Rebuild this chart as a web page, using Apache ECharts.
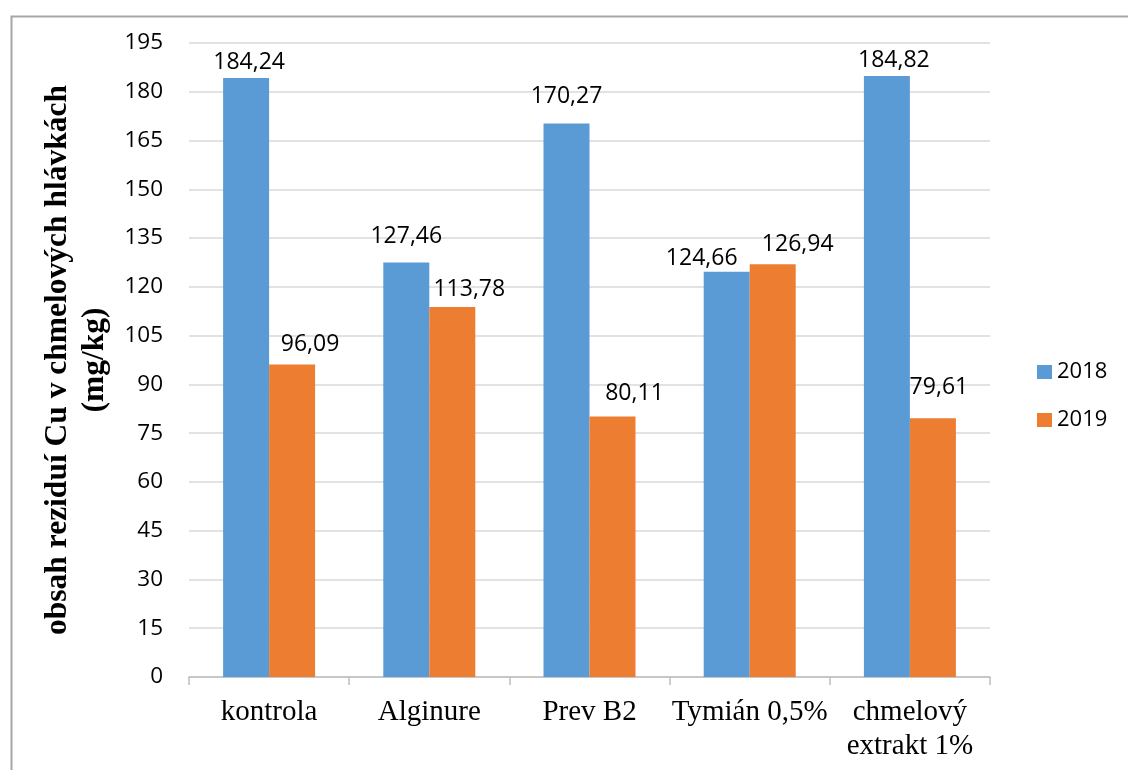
<!DOCTYPE html>
<html>
<head>
<meta charset="utf-8">
<style>
html,body{margin:0;padding:0;background:#fff;}
#chart{width:1128px;height:770px;}
</style>
<script src="https://cdn.jsdelivr.net/npm/echarts@6/dist/echarts.min.js"></script>
</head>
<body>
<div id="chart"></div>
<script>
const categories = ['kontrola', 'Alginure', 'Prev B2', 'Tymián 0,5%', 'chmelový\nextrakt 1%'];
const seriesNames = ['2018', '2019'];
const values2018 = [184.24, 127.46, 170.27, 124.66, 184.82];
const values2019 = [96.09, 113.78, 80.11, 126.94, 79.61];
const yMin = 0, yMax = 195, yInterval = 15;
const yTitle = 'obsah reziduí Cu v chmelových hlávkách\n(mg/kg)';

// label placement tweaks (as in the original, labels were nudged manually)
const labelShift2018 = [[3, 0], [0, -11], [0, -11], [-25, 2], [7, 0]];
const labelShift2019 = [[18, -5], [17, -2], [22, -8], [25, -4], [6, -15]];

const chart = echarts.init(document.getElementById('chart'), null, {renderer: 'canvas'});
const fmt = p => p.value.toFixed(2).replace('.', ',');
const labelStyle = {
  show: true, position: 'top', distance: 4,
  fontFamily: 'Open Sans', fontSize: 23, color: '#000', formatter: fmt
};
const withShift = (vals, shifts) => vals.map((v, i) => ({value: v, label: {offset: shifts[i]}}));

chart.setOption({
  animation: false,
  backgroundColor: '#fff',
  graphic: [{
    type: 'rect', left: 9, top: 14, z: -1,
    shape: {width: 1300, height: 900},
    style: {fill: 'none', stroke: '#a6a6a6', lineWidth: 2}
  }],
  grid: {left: 189, right: 138, top: 43, bottom: 93, containLabel: false},
  legend: {
    orient: 'vertical', left: 1037, top: 361, padding: 0,
    itemWidth: 15, itemHeight: 14, itemGap: 26,
    icon: 'rect',
    textStyle: {fontFamily: 'Open Sans', fontSize: 22, color: '#000', padding: [0, 0, 0, 0]},
    data: seriesNames
  },
  xAxis: {
    type: 'category', data: categories,
    axisLine: {lineStyle: {color: '#bfbfbf', width: 1.5}},
    axisTick: {show: true, length: 8, lineStyle: {color: '#bfbfbf', width: 1.5}},
    axisLabel: {
      fontFamily: 'Liberation Serif', fontSize: 29, lineHeight: 34,
      color: '#000', margin: 18, interval: 0
    }
  },
  yAxis: {
    type: 'value', min: yMin, max: yMax, interval: yInterval,
    name: yTitle, nameLocation: 'middle', nameGap: 71, nameRotate: 90,
    nameTextStyle: {
      fontFamily: 'Liberation Serif', fontSize: 31.5, fontWeight: 'bold',
      lineHeight: 37, color: '#000', align: 'center'
    },
    axisLine: {show: false}, axisTick: {show: false},
    axisLabel: {fontFamily: 'Open Sans', fontSize: 22.5, color: '#000', margin: 26},
    splitLine: {lineStyle: {color: '#d9d9d9', width: 1.5}}
  },
  series: [
    {name: seriesNames[0], type: 'bar', data: withShift(values2018, labelShift2018),
     barWidth: 46, barGap: '0%', itemStyle: {color: '#5b9bd5'}, label: labelStyle},
    {name: seriesNames[1], type: 'bar', data: withShift(values2019, labelShift2019),
     barWidth: 46, barGap: '0%', itemStyle: {color: '#ed7d31'}, label: labelStyle}
  ]
});
</script>
</body>
</html>
